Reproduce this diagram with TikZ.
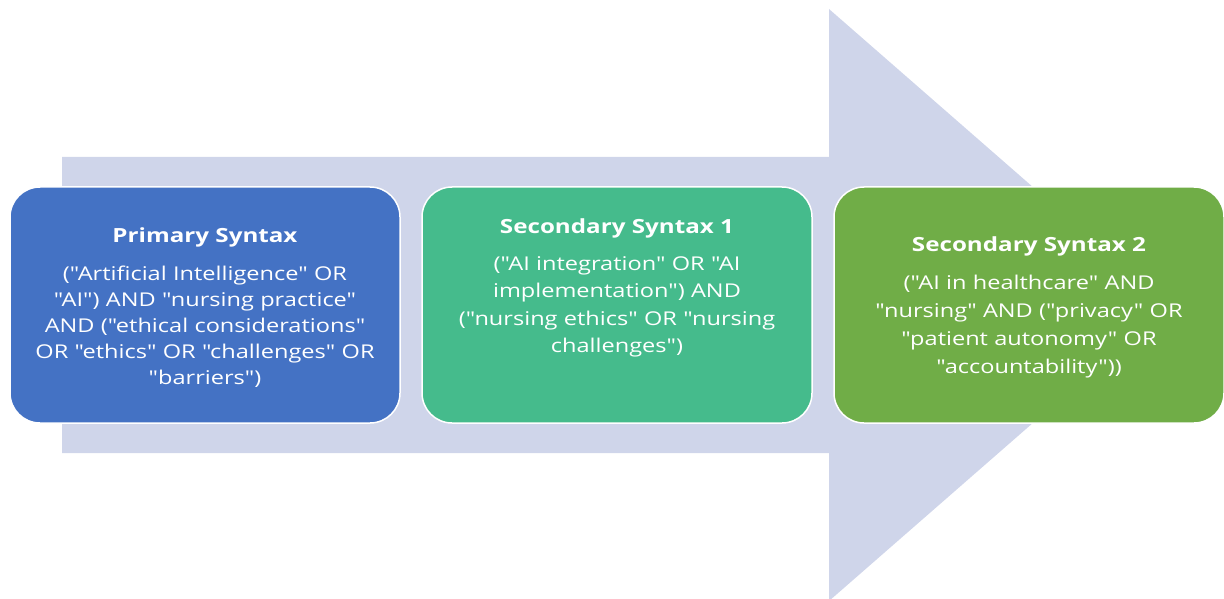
\documentclass[tikz,border=0pt]{standalone}
\usepackage{fontspec}
\setmainfont{Open Sans}[Ligatures=TeXOff,FakeStretch=1.24]
\usetikzlibrary{calc}
\definecolor{SynBlue}{RGB}{68,114,196}
\definecolor{SynTeal}{RGB}{69,187,140}
\definecolor{SynGreen}{RGB}{112,173,71}
\definecolor{SynArrow}{RGB}{207,213,234}
\tikzset{
  syn/box/.style={
    draw=white,
    line width=1.5pt,
    rounded corners=30pt,
    minimum width=390pt,
    minimum height=236pt,
    inner sep=0pt
  },
  syn/text/.style={
    text=white,
    align=center,
    text width=386pt,
    font=\fontsize{19}{#1}\selectfont
  },
  syn/text/.default=26,
  syn/arrow/.style={fill=SynArrow}
}
\newcommand{\syntitle}[2][12pt]{{\fontsize{19.5}{20}\bfseries #2}\\[#1]}

\begin{document}
\begin{tikzpicture}[x=1pt,y=-1pt]
  \useasboundingbox (0,0) rectangle (1224,599);
  % big block arrow behind the three steps
  \fill[syn/arrow] (62,157) -- (829,157) -- (829,9) -- (1168,305)
    -- (829,601) -- (829,453) -- (62,453) -- cycle;
  % the three search steps
  \node[syn/box,fill=SynBlue] (prim) at (205,305) {};
  \node[syn/box,fill=SynTeal] (sec1) at (617,305) {};
  \node[syn/box,fill=SynGreen] (sec2) at (1029,305) {};
  \node[syn/text] (primtxt) at ($(prim.center)+(0,3)$) {\syntitle{Primary Syntax}
    ("Artificial Intelligence" OR\\
    "AI") AND "nursing practice"\\
    AND ("ethical considerations"\\
    OR "ethics" OR "challenges" OR\\
    "barriers")};
  \node[syn/text=27.5] (sec1txt) at ($(sec1.center)+(0,-17)$) {\syntitle[9pt]{Secondary Syntax 1}
    ("AI integration" OR "AI\\
    implementation") AND\\
    ("nursing ethics" OR "nursing\\
    challenges")};
  \node[syn/text=28] (sec2txt) at ($(sec2.center)+(0,2)$) {\syntitle[10pt]{Secondary Syntax 2}
    ("AI in healthcare" AND\\
    "nursing" AND ("privacy" OR\\
    "patient autonomy" OR\\
    "accountability"))};
\end{tikzpicture}
\end{document}
